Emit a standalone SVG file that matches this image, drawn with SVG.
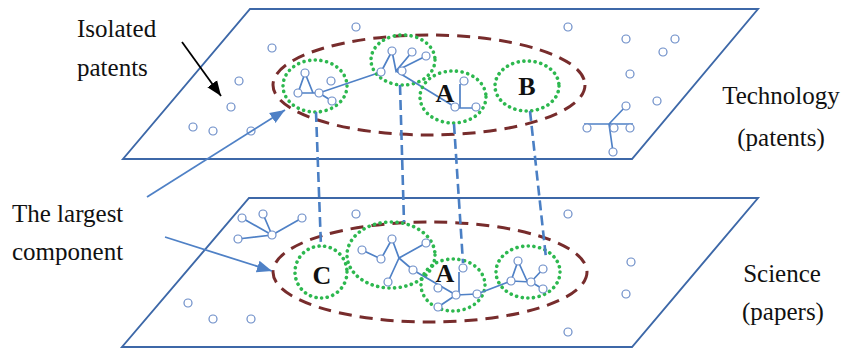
<svg xmlns="http://www.w3.org/2000/svg" width="844" height="350" viewBox="0 0 844 350">
<defs>
<style>
.plane{fill:none;stroke:#3d68a8;stroke-width:1.9}
.edge{fill:none;stroke:#4f81c6;stroke-width:1.7}
.nd{fill:#fff;stroke:#6c8dc8;stroke-width:1.2}
.comp{fill:none;stroke:#772c2c;stroke-width:3;stroke-dasharray:13 8}
.cl{fill:none;stroke:#2db84f;stroke-width:3.6;stroke-dasharray:0.1 5.6;stroke-linecap:round}
.link{stroke:#4a7fc4;stroke-width:2.6;stroke-dasharray:10 5;fill:none}
.lbl{font-family:"Liberation Serif","Times New Roman",serif;font-size:25px;fill:#111}
.let{font-family:"Liberation Serif","Times New Roman",serif;font-size:26px;font-weight:bold;fill:#111;text-anchor:middle}
.arr{stroke:#4f81c6;stroke-width:1.8;fill:none}
</style>
<marker id="ab" markerUnits="userSpaceOnUse" markerWidth="16" markerHeight="14" refX="15" refY="7" orient="auto"><path d="M0,1 L15,7 L0,13 Z" fill="#4f81c6"/></marker>
<marker id="ak" markerUnits="userSpaceOnUse" markerWidth="16" markerHeight="14" refX="15" refY="7" orient="auto"><path d="M0,1 L15,7 L0,13 Z" fill="#000"/></marker>
</defs>
<rect width="844" height="350" fill="#fff"/>

<g id="plane-technology">
<polygon class="plane" points="250,9 758,9 632,159 123,159"/>
</g>
<g id="plane-science">
<polygon class="plane" points="249,198 758,198 632,347 122,347"/>
</g>

<g id="isolated-top">
<circle class="nd" cx="356" cy="27" r="4"/><circle class="nd" cx="272" cy="48" r="4"/>
<circle class="nd" cx="239" cy="81" r="4"/><circle class="nd" cx="231" cy="107" r="4"/>
<circle class="nd" cx="193" cy="127" r="4"/><circle class="nd" cx="213" cy="131" r="4"/>
<circle class="nd" cx="251" cy="131" r="4"/>
<circle class="nd" cx="568" cy="27" r="4"/><circle class="nd" cx="626" cy="39" r="4"/>
<circle class="nd" cx="675" cy="39" r="4"/><circle class="nd" cx="663" cy="52" r="4"/>
<circle class="nd" cx="630" cy="74" r="4"/><circle class="nd" cx="657" cy="101" r="4"/>
</g>

<g id="tree-top-right">
<path class="edge" d="M584,124 L633,124 M609,124 L626,106 M609,124 L613,152"/>
<circle class="nd" cx="587" cy="128" r="4"/><circle class="nd" cx="614" cy="128" r="4"/>
<circle class="nd" cx="630" cy="128" r="4"/><circle class="nd" cx="626" cy="106" r="4"/>
<circle class="nd" cx="613" cy="152" r="4"/>
</g>

<g id="component-top">
<ellipse class="comp" cx="429" cy="85" rx="156" ry="50"/>
</g>

<g id="cluster-top-1">
<ellipse class="cl" cx="315" cy="86" rx="32" ry="26"/>
<path class="edge" d="M305,73 L298,93 M305,73 L313,93 M298,93 L319,93 L381,72 M319,93 L332,101"/>
<circle class="nd" cx="305" cy="73" r="4"/><circle class="nd" cx="298" cy="93" r="4"/>
<circle class="nd" cx="319" cy="93" r="4"/><circle class="nd" cx="331" cy="81" r="4"/>
<circle class="nd" cx="332" cy="101" r="4"/>
</g>

<g id="cluster-top-2">
<ellipse class="cl" cx="403" cy="60" rx="32" ry="25"/>
<path class="edge" d="M381,72 L392,51 L396,71 L412,52 M396,71 L426,56 M396,71 L402,71 M396,71 L455,107"/>
<circle class="nd" cx="381" cy="72" r="4"/><circle class="nd" cx="392" cy="51" r="4"/>
<circle class="nd" cx="412" cy="52" r="4"/><circle class="nd" cx="426" cy="56" r="4"/>
<circle class="nd" cx="402" cy="71" r="4"/>
</g>

<g id="cluster-top-A">
<ellipse class="cl" cx="453" cy="97" rx="33" ry="26"/>
<path class="edge" d="M460,84 L460,108 M455,108 L476,108"/>
<circle class="nd" cx="464" cy="81" r="4"/><circle class="nd" cx="455" cy="107" r="4"/>
<circle class="nd" cx="476" cy="107" r="4"/>
<text class="let" x="445" y="102">A</text>
</g>

<g id="cluster-top-B">
<ellipse class="cl" cx="527" cy="86" rx="32" ry="25"/>
<text class="let" x="527" y="95">B</text>
</g>

<g id="isolated-bottom">
<circle class="nd" cx="356" cy="214" r="4"/><circle class="nd" cx="188" cy="303" r="4"/>
<circle class="nd" cx="213" cy="319" r="4"/><circle class="nd" cx="251" cy="319" r="4"/>
<circle class="nd" cx="568" cy="214" r="4"/><circle class="nd" cx="631" cy="262" r="4"/>
<circle class="nd" cx="626" cy="294" r="4"/><circle class="nd" cx="568" cy="332" r="4"/>
</g>

<g id="tree-bottom-left">
<path class="edge" d="M272,235 L242,218 M272,235 L263,214 M272,235 L302,218 M272,235 L238,239"/>
<circle class="nd" cx="242" cy="218" r="4"/><circle class="nd" cx="263" cy="214" r="4"/>
<circle class="nd" cx="302" cy="218" r="4"/><circle class="nd" cx="238" cy="239" r="4"/>
<circle class="nd" cx="272" cy="235" r="4"/>
</g>

<g id="component-bottom">
<ellipse class="comp" cx="430" cy="272" rx="157" ry="50"/>
</g>

<g id="cluster-bottom-C">
<ellipse class="cl" cx="321" cy="272" rx="26" ry="26"/>
<text class="let" x="322" y="284">C</text>
</g>

<g id="cluster-bottom-2">
<ellipse class="cl" cx="391" cy="255" rx="44" ry="33"/>
<path class="edge" d="M362,250 L381,259 L392,239 L399,258 L426,243 M399,258 L388,282 M399,258 L413,270 L456,295"/>
<circle class="nd" cx="362" cy="250" r="4"/><circle class="nd" cx="381" cy="259" r="4"/>
<circle class="nd" cx="392" cy="239" r="4"/><circle class="nd" cx="426" cy="243" r="4"/>
<circle class="nd" cx="388" cy="282" r="4"/><circle class="nd" cx="413" cy="270" r="4"/>
</g>

<g id="cluster-bottom-A">
<ellipse class="cl" cx="453" cy="285" rx="32" ry="26"/>
<path class="edge" d="M459,272 L459,295 M456,295 L477,294 M438,307 L456,295 M477,294 L511,281"/>
<circle class="nd" cx="463" cy="268" r="4"/><circle class="nd" cx="438" cy="288" r="4"/>
<circle class="nd" cx="456" cy="295" r="4"/><circle class="nd" cx="477" cy="294" r="4"/>
<circle class="nd" cx="438" cy="307" r="4"/>
<text class="let" x="445" y="282">A</text>
</g>

<g id="cluster-bottom-4">
<ellipse class="cl" cx="528" cy="272" rx="32" ry="26"/>
<path class="edge" d="M518,261 L511,281 M518,261 L527,281 M511,281 L531,282 L543,269 M531,282 L543,289"/>
<circle class="nd" cx="518" cy="261" r="4"/><circle class="nd" cx="511" cy="281" r="4"/>
<circle class="nd" cx="531" cy="282" r="4"/><circle class="nd" cx="543" cy="269" r="4"/>
<circle class="nd" cx="543" cy="289" r="4"/>
</g>

<g id="connectors">
<line class="link" x1="316" y1="112" x2="321" y2="247"/>
<line class="link" x1="400" y1="85" x2="404" y2="222"/>
<line class="link" x1="454" y1="124" x2="463" y2="263"/>
<line class="link" x1="530" y1="111" x2="546" y2="258"/>
<line class="arr" x1="147" y1="197" x2="285" y2="110" marker-end="url(#ab)"/>
<line class="arr" x1="165" y1="237" x2="272" y2="271" marker-end="url(#ab)"/>
<line x1="182" y1="42" x2="221" y2="96" stroke="#000" stroke-width="1.8" marker-end="url(#ak)"/>
</g>

<g id="labels">
<text class="lbl" x="77" y="37">Isolated</text>
<text class="lbl" x="77" y="76">patents</text>
<text class="lbl" x="12" y="222">The largest</text>
<text class="lbl" x="12" y="260">component</text>
<text class="lbl" x="781" y="104" text-anchor="middle">Technology</text>
<text class="lbl" x="781" y="146" text-anchor="middle">(patents)</text>
<text class="lbl" x="782" y="282" text-anchor="middle">Science</text>
<text class="lbl" x="783" y="320" text-anchor="middle">(papers)</text>
</g>
</svg>
